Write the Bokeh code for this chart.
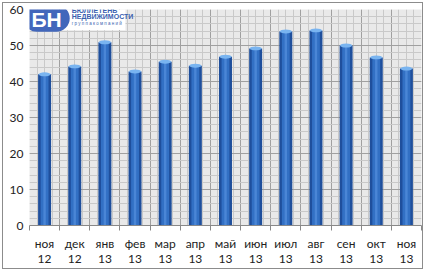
from bokeh.plotting import figure
from bokeh.models import FixedTicker, Range1d, Label, ColumnDataSource
from bokeh.embed import file_html
from bokeh.resources import INLINE

months = ["ноя", "дек", "янв", "фев", "мар", "апр", "май", "июн", "июл", "авг", "сен", "окт", "ноя"]
years = ["12", "12", "13", "13", "13", "13", "13", "13", "13", "13", "13", "13", "13"]
values = [42.0, 44.2, 50.9, 42.8, 45.5, 44.4, 46.9, 49.2, 53.9, 54.2, 50.0, 46.7, 43.6]
y_ticks = [0, 10, 20, 30, 40, 50, 60]

n = len(values)
xs = [i + 0.5 for i in range(n)]
src = ColumnDataSource(dict(x=xs, top=values))

p = figure(width=421, height=267, output_backend="svg", toolbar_location=None,
           x_range=Range1d(0, n), y_range=Range1d(0, 60),
           min_border_left=26, min_border_right=3, min_border_top=6, min_border_bottom=45)
p.styles = {"margin": "2px 0 0 2px", "border": "1px solid #8c8c8c", "box-sizing": "border-box"}
p.background_fill_color = "#e9e9e9"
p.border_fill_color = "white"
p.outline_line_color = None

# grid
p.xgrid.ticker = FixedTicker(ticks=list(range(n + 1)), minor_ticks=[i / 4 for i in range(4 * n + 1)])
p.xgrid.grid_line_color = "#a0a0a0"
p.xgrid.minor_grid_line_color = "#c9c9c9"
p.ygrid.ticker = FixedTicker(ticks=y_ticks, minor_ticks=list(range(0, 61, 2)))
p.ygrid.grid_line_color = "#a0a0a0"
p.ygrid.minor_grid_line_color = "#c9c9c9"

# bars (cylinder look)
p.vbar(x="x", top="top", width=0.43, source=src, fill_color="#1f4f9c", line_color=None)
p.vbar(x="x", top="top", width=0.26, source=src, fill_color="#3270c4", line_color=None)
p.vbar(x="x", top="top", width=0.08, source=src, fill_color="#4a86d6", line_color=None)
p.ellipse(x="x", y="top", width=0.4, height=1.1, source=src, fill_color="#79b4f0", line_color=None)

# axes
p.xaxis.ticker = FixedTicker(ticks=xs, minor_ticks=list(range(n + 1)))
p.xaxis.major_label_overrides = {x: f"{m}\n{yv}" for x, m, yv in zip(xs, months, years)}
p.xaxis.major_tick_out = 0
p.xaxis.major_tick_in = 0
p.xaxis.minor_tick_out = 5
p.xaxis.minor_tick_in = 0
p.xaxis.minor_tick_line_color = "#888888"
p.xaxis.axis_line_color = "#888888"
p.xaxis.major_label_standoff = 5
p.xaxis.major_label_text_line_height = 1.0
p.yaxis.ticker = FixedTicker(ticks=y_ticks)
p.yaxis.major_tick_out = 0
p.yaxis.major_tick_in = 0
p.yaxis.minor_tick_line_color = None
p.yaxis.axis_line_color = None
p.yaxis.major_label_standoff = 6
for ax in (p.xaxis, p.yaxis):
    ax.major_label_text_font = "Lato"
    ax.major_label_text_font_size = "12px"
    ax.major_label_text_color = "#222222"

# logo
p.add_layout(Label(x=-0.3, y=62.3, text="x", text_color="white", text_baseline="top",
                   background_fill_color="white", text_font_size="10px",
                   padding=dict(left=0, right=100, top=0, bottom=18)))
p.add_layout(Label(x=-0.2, y=61.3, text="БН", text_color="white", text_font="Liberation Sans",
                   text_baseline="top", text_font_style="bold", text_font_size="21px",
                   background_fill_color="#4267bb", border_radius=14,
                   padding=dict(left=8, right=8, top=3, bottom=1)))
p.add_layout(Label(x=1.4, y=60.6, text="БЮЛЛЕТЕНЬ", text_color="#3a5fb0", text_font="Liberation Sans",
                   text_baseline="top", text_font_style="bold", text_font_size="7px"))
p.add_layout(Label(x=1.4, y=59.0, text="НЕДВИЖИМОСТИ", text_color="#3a5fb0", text_font="Liberation Sans",
                   text_baseline="top", text_font_style="bold", text_font_size="7px"))
p.add_layout(Label(x=1.4, y=56.7, text="г р у п п а   к о м п а н и й", text_color="#3a5fb0",
                   text_baseline="top", text_font="Liberation Sans", text_font_size="4.5px"))

open("out.html", "w").write(file_html(p, INLINE))
